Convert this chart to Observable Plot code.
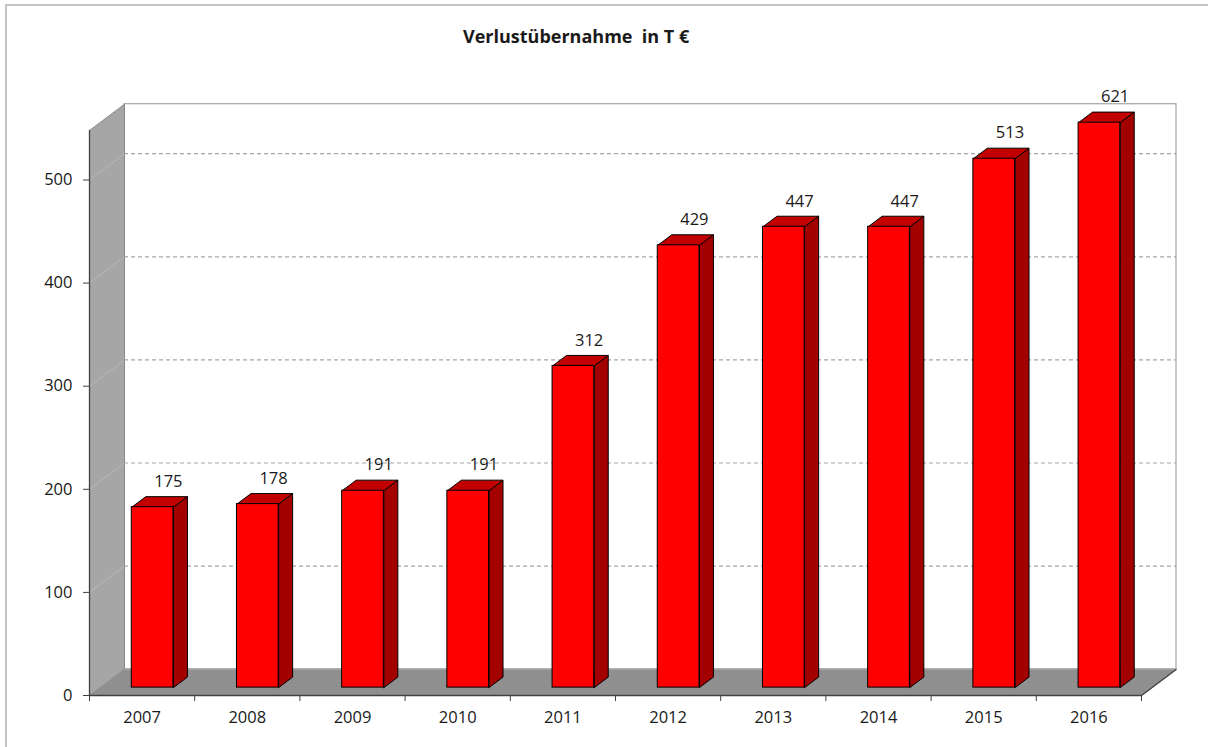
<!DOCTYPE html>
<html>
<head>
<meta charset="utf-8">
<script src="https://cdn.jsdelivr.net/npm/d3@7"></script>
<script src="https://cdn.jsdelivr.net/npm/@observablehq/plot@0.6"></script>
<style>
  html, body { margin: 0; padding: 0; background: #fff; overflow: hidden; }
  #wrap { position: relative; width: 1208px; height: 747px; overflow: hidden; }
  #frame { position: absolute; left: 5px; top: 4px; width: 1300px; height: 900px; border: 2px solid #c3c3c3; box-sizing: border-box; }
  #title { position: absolute; left: 463px; top: 25px; font: bold 18px "Open Sans", sans-serif; line-height: 22px; color: #1a1a1a; white-space: pre; }
  #chart { position: absolute; left: 0; top: 60px; }
</style>
</head>
<body>
<div id="wrap">
  <div id="frame"></div>
  <div id="title">Verlustübernahme  in T €</div>
  <div id="chart"></div>
</div>
<script>
// ---- data ----
const years = ["2007", "2008", "2009", "2010", "2011", "2012", "2013", "2014", "2015", "2016"];
const values = [175, 178, 191, 191, 312, 429, 447, 447, 513, 621];
const yTicks = [0, 100, 200, 300, 400, 500];
const gridValues = [100, 200, 300, 400, 500];

// ---- geometry (styles) ----
const yMax = 548;          // top of value axis (bars above are clipped, like the original)
const DX = 35 / 105.2;     // depth offset in x units
const DY = 25.5;           // depth offset in y units
const half = 0.198;        // half bar width in x units
const f0 = 0.3, f1 = 0.7;  // depth fractions of bar front / back
const x0 = -0.5, x1 = years.length - 0.5;

const sides = [], tops = [];
const fronts = [];
values.forEach((v, i) => {
  const vv = Math.min(v, yMax);
  const xl = i - half + f0 * DX, xr = i + half + f0 * DX;
  const yb = f0 * DY, yt = vv + f0 * DY;
  const ddx = (f1 - f0) * DX, ddy = (f1 - f0) * DY;
  fronts.push({i, xl, xr, yb, yt});
  [[xr, yb], [xr + ddx, yb + ddy], [xr + ddx, yt + ddy], [xr, yt], [xr, yb]]
    .forEach(([x, y]) => sides.push({id: i, x, y}));
  [[xl, yt], [xr, yt], [xr + ddx, yt + ddy], [xl + ddx, yt + ddy], [xl, yt]]
    .forEach(([x, y]) => tops.push({id: i, x, y}));
});

const leftWall = [[x0, 0], [x0 + DX, DY], [x0 + DX, yMax + DY], [x0, yMax], [x0, 0]].map(([x, y]) => ({x, y}));
const floor = [[x0, 0], [x1, 0], [x1 + DX, DY], [x0 + DX, DY], [x0, 0]].map(([x, y]) => ({x, y}));

const labels = values.map((v, i) => ({i, v, y: Math.min(v, yMax) + f1 * DY}));
const boundaries = d3.range(years.length + 1).map(i => i - 0.5);

const chart = Plot.plot({
  width: 1208,
  height: 687,
  marginLeft: 89,
  marginRight: 67,
  marginTop: 70,
  marginBottom: 52,
  style: {fontFamily: "'Open Sans', sans-serif", fontSize: "16px", color: "#1a1a1a", background: "transparent"},
  x: {type: "linear", domain: [x0, x1]},
  y: {type: "linear", domain: [0, yMax]},
  marks: [
    // back wall
    Plot.rect([0], {x1: () => x0 + DX, x2: () => x1 + DX, y1: () => DY, y2: () => yMax + DY, fill: "#fff", stroke: "#a6a6a6", strokeWidth: 1.2}),
    // gridlines on back wall
    Plot.ruleY(gridValues, {y: d => d + DY, x1: () => x0 + DX, x2: () => x1 + DX, stroke: "#a6a6a6", strokeDasharray: "4,3", strokeWidth: 1.2}),
    // left wall
    Plot.line(leftWall, {x: "x", y: "y", fill: "#a6a6a6", stroke: "#8a8a8a", strokeWidth: 1}),
    Plot.link(gridValues, {x1: () => x0, y1: d => d, x2: () => x0 + DX, y2: d => d + DY, stroke: "#b9b9b9", strokeWidth: 1}),
    // floor
    Plot.line(floor, {x: "x", y: "y", fill: "#8f8f8f", stroke: "none"}),
    Plot.link([0], {x1: () => x1, y1: () => 0, x2: () => x1 + DX, y2: () => DY, stroke: "#404040", strokeWidth: 1.3}),
    // value axis line and category axis line
    Plot.ruleX([x0], {y1: 0, y2: yMax, stroke: "#404040", strokeWidth: 1.3}),
    Plot.ruleY([0], {x1: () => x0, x2: () => x1, stroke: "#404040", strokeWidth: 1.3}),
    // bars
    Plot.line(sides, {x: "x", y: "y", z: "id", fill: "#a30000", stroke: "#000", strokeWidth: 1, strokeLinejoin: "miter"}),
    Plot.line(tops, {x: "x", y: "y", z: "id", fill: "#c20000", stroke: "#000", strokeWidth: 1, strokeLinejoin: "miter"}),
    Plot.rect(fronts, {x1: "xl", x2: "xr", y1: "yb", y2: "yt", fill: "#ff0000", stroke: "#000", strokeWidth: 1}),
    // axes
    Plot.axisY(yTicks, {tickSize: 6, tickPadding: 11, fontSize: 16.5, stroke: "#404040", fill: "#1a1a1a"}),
    Plot.axisX(boundaries, {tickSize: 6, tickFormat: () => "", stroke: "#404040"}),
    Plot.axisX(d3.range(years.length), {tickSize: 0, tickPadding: 16, fontSize: 16.5, fill: "#1a1a1a", tickFormat: i => years[i]}),
    // data labels
    Plot.text(labels, {x: d => d.i + 0.75 * DX, y: "y", text: d => String(d.v), dy: -15, fontSize: 16.5, fill: "#1a1a1a"})
  ]
});
document.getElementById("chart").appendChild(chart);
</script>
</body>
</html>
